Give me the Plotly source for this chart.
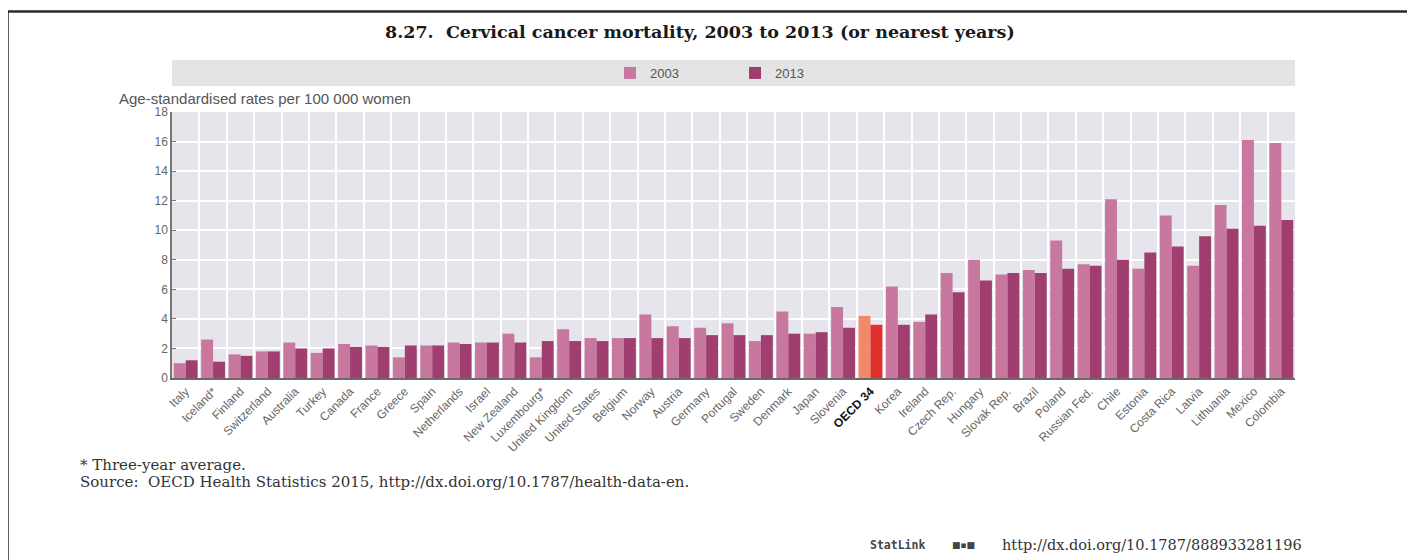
import plotly.graph_objects as go

countries = ["Italy", "Iceland*", "Finland", "Switzerland", "Australia", "Turkey", "Canada",
             "France", "Greece", "Spain", "Netherlands", "Israel", "New Zealand", "Luxembourg*",
             "United Kingdom", "United States", "Belgium", "Norway", "Austria", "Germany",
             "Portugal", "Sweden", "Denmark", "Japan", "Slovenia", "OECD 34", "Korea", "Ireland",
             "Czech Rep.", "Hungary", "Slovak Rep.", "Brazil", "Poland", "Russian Fed.", "Chile",
             "Estonia", "Costa Rica", "Latvia", "Lithuania", "Mexico", "Colombia"]

val_2003 = [1.0, 2.6, 1.6, 1.8, 2.4, 1.7, 2.3, 2.2, 1.4, 2.2, 2.4, 2.4, 3.0, 1.4,
            3.3, 2.7, 2.7, 4.3, 3.5, 3.4, 3.7, 2.5, 4.5, 3.0, 4.8, 4.2, 6.2, 3.8,
            7.1, 8.0, 7.0, 7.3, 9.3, 7.7, 12.1, 7.4, 11.0, 7.6, 11.7, 16.1, 15.9]

val_2013 = [1.2, 1.1, 1.5, 1.8, 2.0, 2.0, 2.1, 2.1, 2.2, 2.2, 2.3, 2.4, 2.4, 2.5,
            2.5, 2.5, 2.7, 2.7, 2.7, 2.9, 2.9, 2.9, 3.0, 3.1, 3.4, 3.6, 3.6, 4.3,
            5.8, 6.6, 7.1, 7.1, 7.4, 7.6, 8.0, 8.5, 8.9, 9.6, 10.1, 10.3, 10.7]

y_ticks = [0, 2, 4, 6, 8, 10, 12, 14, 16, 18]

C2003, C2013 = "#c8789f", "#a03e6f"
C2003_OECD, C2013_OECD = "#f28a6a", "#e0302b"

col03 = [C2003_OECD if c == "OECD 34" else C2003 for c in countries]
col13 = [C2013_OECD if c == "OECD 34" else C2013 for c in countries]
ticktext = ["<b><span style='color:#111'>" + c + "</span></b>" if c == "OECD 34" else c
            for c in countries]

fig = go.Figure()
fig.add_trace(go.Bar(x=countries, y=val_2003, name="2003", marker=dict(color=col03, line_width=0)))
fig.add_trace(go.Bar(x=countries, y=val_2013, name="2013", marker=dict(color=col13, line_width=0)))

# page offset (browser body margin)
OFF = 8
W, H = 1415, 560
# target plot area in page pixels: x 172..1295, y 112..378
L = 172 - OFF
T = 112 - OFF
R = W - (1295 - OFF)
B = H - (378 - OFF)
pw, ph = W - L - R, H - T - B


def px(x):
    return (x - OFF - L) / pw


def py(y):
    return (H - B - (y - OFF)) / ph


shapes = [
    # legend band
    dict(type="rect", xref="paper", yref="paper", x0=0, x1=1, y0=py(86), y1=py(60),
         fillcolor="#e4e4e4", line_width=0, layer="below"),
    # frame lines
    dict(type="line", xref="paper", yref="paper", x0=px(7.5), x1=px(1440), y0=py(11.5), y1=py(11.5),
         line=dict(color="#2a2a2a", width=2.5)),
    dict(type="line", xref="paper", yref="paper", x0=px(7.5), x1=px(7.5), y0=py(11.5), y1=py(590),
         line=dict(color="#2a2a2a", width=2.5)),
]

annotations = [
    dict(text="<b>8.27.  Cervical cancer mortality, 2003 to 2013 (or nearest years)</b>",
         xref="paper", yref="paper", x=px(700), y=py(32), xanchor="center", yanchor="middle",
         showarrow=False, font=dict(family="DejaVu Serif", size=17.5, color="#1a1a1a")),
    dict(text="Age-standardised rates per 100 000 women", xref="paper", yref="paper",
         x=px(117), y=py(98), xanchor="left", yanchor="middle", showarrow=False,
         font=dict(family="Liberation Sans Narrow, Liberation Sans", size=15, color="#555")),
    dict(text="* Three-year average.", xref="paper", yref="paper", x=px(78), y=py(465),
         xanchor="left", yanchor="middle", showarrow=False,
         font=dict(family="DejaVu Serif", size=15, color="#333")),
    dict(text="Source:  OECD Health Statistics 2015, http://dx.doi.org/10.1787/health-data-en.",
         xref="paper", yref="paper", x=px(78), y=py(482), xanchor="left", yanchor="middle",
         showarrow=False, font=dict(family="DejaVu Serif", size=15, color="#333")),
    dict(text="<b>StatLink</b>", xref="paper", yref="paper", x=px(868), y=py(545),
         xanchor="left", yanchor="middle", showarrow=False,
         font=dict(family="DejaVu Sans Mono", size=11.5, color="#444")),
    dict(text="<b>■▪■</b>", xref="paper", yref="paper", x=px(950), y=py(545),
         xanchor="left", yanchor="middle", showarrow=False,
         font=dict(family="DejaVu Sans", size=9, color="#444")),
    dict(text="http://dx.doi.org/10.1787/888933281196", xref="paper", yref="paper",
         x=px(1000), y=py(545), xanchor="left", yanchor="middle", showarrow=False,
         font=dict(family="DejaVu Serif", size=14.5, color="#333")),
]

fig.update_layout(
    width=W, height=H,
    margin=dict(l=L, r=R, t=T, b=B, autoexpand=False),
    paper_bgcolor="white", plot_bgcolor="#e5e5eb",
    barmode="group", bargap=0.13, bargroupgap=0,
    shapes=shapes, annotations=annotations,
    showlegend=True,
    legend=dict(orientation="h", x=px(610), y=py(73), xanchor="left", yanchor="middle",
                bgcolor="rgba(0,0,0,0)", entrywidth=80, entrywidthmode="pixels",
                font=dict(family="Liberation Sans Narrow, Liberation Sans", size=13, color="#555"),
                itemclick=False),
    font=dict(family="Liberation Sans", color="#555"),
)

fig.update_xaxes(
    type="category", tickmode="array", tickvals=countries, ticktext=ticktext,
    tickangle=-45, tickson="boundaries", ticks="", showgrid=True, gridcolor="white", gridwidth=1.5,
    showline=True, linecolor="#6a6a6a", linewidth=1.5,
    tickfont=dict(family="Liberation Sans Narrow, Liberation Sans", size=12, color="#666"),
    range=[-0.5, len(countries) - 0.5],
)
fig.update_yaxes(
    range=[0, 18], tickmode="array", tickvals=y_ticks, ticks="inside", ticklen=4,
    tickcolor="#777", showgrid=True, gridcolor="white", gridwidth=1.5,
    showline=True, linecolor="#777", linewidth=1.5, zeroline=False,
    tickfont=dict(family="Liberation Sans Narrow, Liberation Sans", size=12, color="#666"),
)

fig.write_html("out.html")
